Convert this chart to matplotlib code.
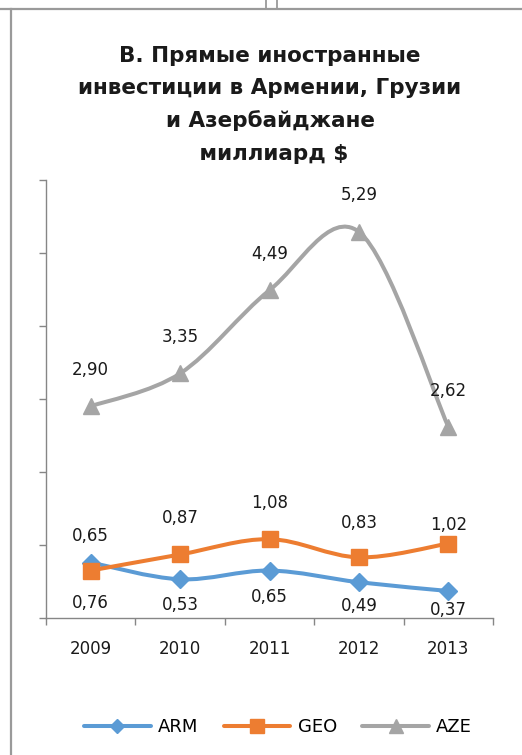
import numpy as np
import matplotlib.pyplot as plt
from matplotlib.path import Path
from matplotlib.patches import PathPatch
from matplotlib.lines import Line2D

# =========================
# DADOS
# =========================

YEARS = ["2009", "2010", "2011", "2012", "2013"]
ARM = [0.76, 0.53, 0.65, 0.49, 0.37]
GEO = [0.65, 0.87, 1.08, 0.83, 1.02]
AZE = [2.90, 3.35, 4.49, 5.29, 2.62]

TITLE_LINES = ["В. Прямые иностранные", "инвестиции в Армении, Грузии",
               "и Азербайджане", " миллиард $"]

C_ARM = "#5B9BD5"
C_GEO = "#ED7D31"
C_AZE = "#A5A5A5"
C_AXIS = "#868686"

PX = 0.72  # 1 px em pontos (dpi 100)


def smooth_path(xs, ys):
    """Curva suavizada tipo Excel (Catmull-Rom -> Bezier)."""
    pts = np.column_stack([xs, ys]).astype(float)
    n = len(pts)
    verts = [pts[0]]
    codes = [Path.MOVETO]
    for i in range(n - 1):
        p0 = pts[max(i - 1, 0)]
        p1 = pts[i]
        p2 = pts[i + 1]
        p3 = pts[min(i + 2, n - 1)]
        c1 = p1 + (p2 - p0) / 6.0
        c2 = p2 - (p3 - p1) / 6.0
        verts += [c1, c2, p2]
        codes += [Path.CURVE4] * 3
    return Path(verts, codes)


def draw_series(ax, values, color, marker, msize, label_offsets, z):
    xs = np.arange(len(values))
    patch = PathPatch(smooth_path(xs, values), facecolor="none", edgecolor=color,
                      lw=2.9, capstyle="round", joinstyle="round", zorder=z)
    ax.add_patch(patch)
    ax.plot(xs, values, linestyle="none", marker=marker, markersize=msize,
            color=color, markeredgecolor=color, zorder=z + 0.5, clip_on=False)
    for x, v, off in zip(xs, values, label_offsets):
        ax.annotate(f"{v:.2f}".replace(".", ","), (x, v), xytext=(0, off * PX),
                    textcoords="offset points", ha="center", va="center",
                    fontsize=12, color="#1a1a1a", zorder=10)


fig = plt.figure(figsize=(5.22, 7.55), dpi=100)
ax = fig.add_axes([46 / 522, 1 - 618 / 755, (493 - 46) / 522, (618 - 180) / 755])

ax.set_xlim(-0.5, len(YEARS) - 0.5)
ax.set_ylim(0, 6)

draw_series(ax, ARM, C_ARM, "D", 9.5, [-40, -26, -26, -24, -19], 3)
draw_series(ax, GEO, C_GEO, "s", 11.5, [35, 36, 36, 34, 19], 4)
draw_series(ax, AZE, C_AZE, "^", 12, [36, 36, 36, 37, 36], 5)

# eixos
for side in ["top", "right"]:
    ax.spines[side].set_visible(False)
for side in ["left", "bottom"]:
    ax.spines[side].set_color(C_AXIS)
    ax.spines[side].set_linewidth(1.0)

ax.set_yticks(np.arange(0, 7, 1))
ax.set_yticklabels([])
ax.tick_params(axis="y", length=7 * PX, color=C_AXIS, width=1.0)

ax.set_xticks(np.arange(len(YEARS)))
ax.set_xticklabels(YEARS, fontsize=12, color="#1a1a1a")
ax.set_xticks(np.arange(-0.5, len(YEARS)), minor=True)
ax.tick_params(axis="x", which="major", length=0, pad=16)
ax.tick_params(axis="x", which="minor", length=7 * PX, color=C_AXIS, width=1.0)

# titulo (uma linha de cada vez)
for line, yc in zip(TITLE_LINES, [56, 88, 121, 154]):
    fig.text(270 / 522, 1 - yc / 755, line, ha="center", va="center",
             fontsize=15.5, fontweight="bold", color="#1a1a1a")

# legenda
handles = [
    Line2D([], [], color=C_ARM, lw=2.9, marker="D", markersize=7, solid_capstyle="round"),
    Line2D([], [], color=C_GEO, lw=2.9, marker="s", markersize=10, solid_capstyle="round"),
    Line2D([], [], color=C_AZE, lw=2.9, marker="^", markersize=10, solid_capstyle="round"),
]
fig.legend(handles, ["ARM", "GEO", "AZE"], loc="center", ncol=3,
           bbox_to_anchor=(278 / 522, 1 - 727 / 755), frameon=False,
           fontsize=13, handlelength=3.7, handletextpad=0.4, columnspacing=1.4)

# bordas da pagina
border = "#9a9a9a"
fig.add_artist(Line2D([0, 1], [1 - 8.5 / 755] * 2, color=border, lw=1.6, transform=fig.transFigure))
fig.add_artist(Line2D([10.5 / 522] * 2, [0, 1 - 8.5 / 755], color=border, lw=1.6, transform=fig.transFigure))
fig.add_artist(Line2D([266 / 522] * 2, [1 - 8.5 / 755, 1], color=border, lw=1.3, transform=fig.transFigure))
fig.add_artist(Line2D([277 / 522] * 2, [1 - 8.5 / 755, 1], color=border, lw=1.3, transform=fig.transFigure))

fig.savefig("out.png", dpi=100)
